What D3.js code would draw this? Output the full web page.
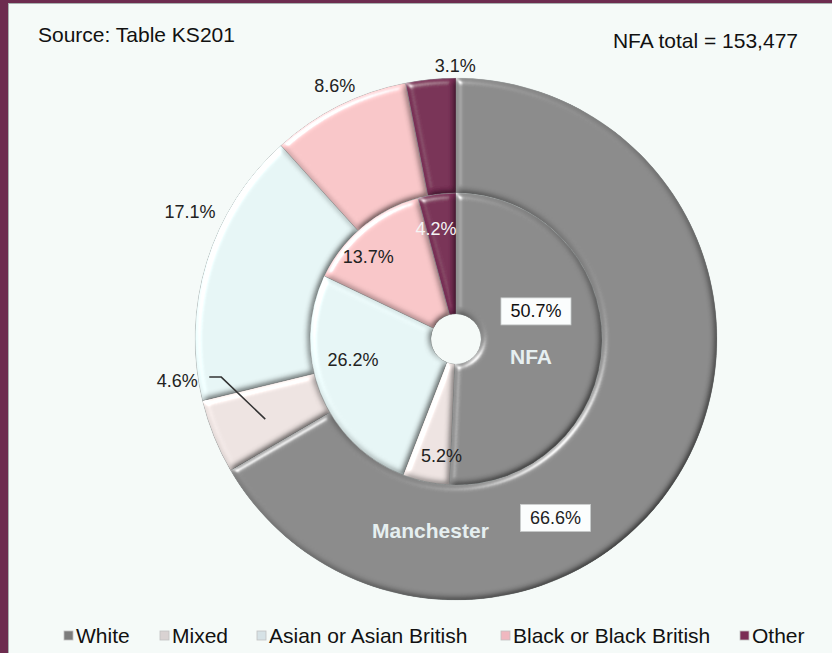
<!DOCTYPE html>
<html><head><meta charset="utf-8">
<script src="https://cdn.jsdelivr.net/npm/d3@7/dist/d3.min.js"></script>
<style>
html,body{margin:0;padding:0;background:#f5faf8;}
svg{display:block;font-family:"Liberation Sans",Arial,sans-serif;}
</style></head>
<body>
<svg id="chart" width="832" height="653"></svg>
<script>
// ---- data ----
const categories = ["White", "Mixed", "Asian or Asian British", "Black or Black British", "Other"];
const manchesterValues = [66.6, 4.6, 17.1, 8.6, 3.1];
const nfaValues = [50.7, 5.2, 26.2, 13.7, 4.2];
const colors = ["#8a8a8a", "#ede3e1", "#e6f5f5", "#f8c6c8", "#782f55"];
const legendColors = ["#7c7c7c", "#d9d2d2", "#d6e2e6", "#f0b8c0", "#7a2d55"];
const sourceText = "Source: Table KS201";
const totalText = "NFA total = 153,477";
const innerName = "NFA";
const outerName = "Manchester";

// ---- layout ----
const W = 832, H = 653;
const cx = 456, cy = 339;
const rHole = 25, rMid = 146, rOuter = 261;

const svg = d3.select("#chart");
const defs = svg.append("defs");

const f = defs.append("filter").attr("id", "bevel").attr("x", "-10%").attr("y", "-10%").attr("width", "120%").attr("height", "120%");
f.append("feGaussianBlur").attr("in", "SourceAlpha").attr("stdDeviation", 3).attr("result", "blur");
const spec = f.append("feSpecularLighting").attr("in", "blur").attr("surfaceScale", 4)
  .attr("specularConstant", 0.9).attr("specularExponent", 35).attr("lighting-color", "#ffffff").attr("result", "spec");
spec.append("feDistantLight").attr("azimuth", 225).attr("elevation", 35);
f.append("feComposite").attr("in", "spec").attr("in2", "SourceAlpha").attr("operator", "in").attr("result", "specIn");
const diff = f.append("feDiffuseLighting").attr("in", "blur").attr("surfaceScale", 4)
  .attr("diffuseConstant", 1).attr("lighting-color", "#ffffff").attr("result", "diff");
diff.append("feDistantLight").attr("azimuth", 225).attr("elevation", 55);
f.append("feComposite").attr("in", "SourceGraphic").attr("in2", "diff").attr("operator", "arithmetic")
  .attr("k1", 1.22).attr("k2", 0).attr("k3", 0).attr("k4", 0).attr("result", "lit");
f.append("feComposite").attr("in", "lit").attr("in2", "specIn").attr("operator", "arithmetic")
  .attr("k1", 0).attr("k2", 1).attr("k3", 0.7).attr("k4", 0).attr("result", "all");
f.append("feComposite").attr("in", "all").attr("in2", "SourceAlpha").attr("operator", "in");

// background + frame
svg.append("rect").attr("width", W).attr("height", H).attr("fill", "#f5faf8");
svg.append("rect").attr("x", 0).attr("y", 0).attr("width", 8).attr("height", H).attr("fill", "#6d2c4f");
svg.append("rect").attr("x", 0).attr("y", 0).attr("width", W).attr("height", 3).attr("fill", "#6d2c4f");
svg.append("line").attr("x1", 8.5).attr("x2", 8.5).attr("y1", 3).attr("y2", H).attr("stroke", "#a9b2b0").attr("stroke-width", 1);
svg.append("line").attr("x1", 8).attr("x2", W).attr("y1", 3.5).attr("y2", 3.5).attr("stroke", "#a9b2b0").attr("stroke-width", 1);

const pie = d3.pie().sort(null).value(d => d);
const g = svg.append("g").attr("transform", `translate(${cx},${cy})`);

const arcOuter = d3.arc().innerRadius(rMid).outerRadius(rOuter);
const arcInner = d3.arc().innerRadius(rHole).outerRadius(rMid);

const outerArcs = pie(manchesterValues);
const innerArcs = pie(nfaValues);

g.append("g").selectAll("path").data(outerArcs).join("path")
  .attr("d", arcOuter).attr("fill", (d, i) => colors[i])
  .attr("stroke", "#9aa0a0").attr("stroke-width", 0.5).attr("filter", "url(#bevel)");
g.append("g").selectAll("path").data(innerArcs).join("path")
  .attr("d", arcInner).attr("fill", (d, i) => colors[i])
  .attr("stroke", "#9aa0a0").attr("stroke-width", 0.5).attr("filter", "url(#bevel)");

const fmt = v => d3.format(".1f")(v) + "%";
const labelFont = 18;

// label offsets relative to each arc centroid (layout only)
const innerOffsets = [[-5.5, -30], [3, 33], [-23.5, -10.5], [-33, -17], [-8.7, -26]];
const outerOffsets = [[-77, 77], [-90, -34], [-71.5, -67], [-30, -71], [19, -71]];
const innerTextColors = ["#111", "#222", "#222", "#222", "#f4f4f4"];

function addLabels(arcs, values, arcGen, offsets, inner) {
  arcs.forEach((d, i) => {
    const c = arcGen.centroid(d);
    const x = c[0] + offsets[i][0], y = c[1] + offsets[i][1];
    if (i === 0) {
      g.append("rect").attr("x", x - 35).attr("y", y - 13).attr("width", 70).attr("height", 27)
        .attr("fill", "#fbfdfd").attr("stroke", "#c9cccc").attr("stroke-width", 0.8);
    }
    g.append("text").attr("x", x).attr("y", y).attr("dy", "0.35em")
      .attr("text-anchor", "middle").attr("font-size", labelFont)
      .attr("fill", inner ? innerTextColors[i] : "#222")
      .text(fmt(values[i]));
  });
}
addLabels(innerArcs, nfaValues, arcInner, innerOffsets, true);
addLabels(outerArcs, manchesterValues, arcOuter, outerOffsets, false);

// leader line for Mixed (outer)
{
  const c = arcOuter.centroid(outerArcs[1]);
  const lx = c[0] + outerOffsets[1][0], ly = c[1] + outerOffsets[1][1];
  g.append("polyline")
    .attr("points", `${c[0] - 2},${c[1] + 4} ${lx + 44},${ly - 4} ${lx + 32},${ly - 4}`)
    .attr("fill", "none").attr("stroke", "#333").attr("stroke-width", 1.5);
}

// series names
{
  const c = arcInner.centroid(innerArcs[0]);
  g.append("text").attr("x", c[0] - 10.5).attr("y", c[1] + 16).attr("dy", "0.35em")
    .attr("text-anchor", "middle").attr("font-size", 21).attr("font-weight", "bold")
    .attr("fill", "#e6eff0").text(innerName);
  const c2 = arcOuter.centroid(outerArcs[0]);
  g.append("text").attr("x", c2[0] - 202).attr("y", c2[1] + 90).attr("dy", "0.35em")
    .attr("text-anchor", "middle").attr("font-size", 21).attr("font-weight", "bold")
    .attr("fill", "#e6eff0").text(outerName);
}

// titles
svg.append("text").attr("x", 38).attr("y", 42).attr("font-size", 21).attr("fill", "#111").text(sourceText);
svg.append("text").attr("x", 798).attr("y", 48).attr("text-anchor", "end").attr("font-size", 21).attr("fill", "#111").text(totalText);

// legend (marker x positions are layout)
const legendX = [64, 160, 257, 501, 740];
const legY = 636;
const leg = svg.append("g");
categories.forEach((c, i) => {
  const lx = legendX[i];
  leg.append("rect").attr("x", lx).attr("y", legY - 5).attr("width", 9).attr("height", 9)
    .attr("fill", legendColors[i]).attr("stroke", "#c0c0c0").attr("stroke-width", 0.8);
  leg.append("text").attr("x", lx + 12).attr("y", legY).attr("dy", "0.35em")
    .attr("font-size", 21).attr("fill", "#111").text(c);
});
</script>
</body></html>
